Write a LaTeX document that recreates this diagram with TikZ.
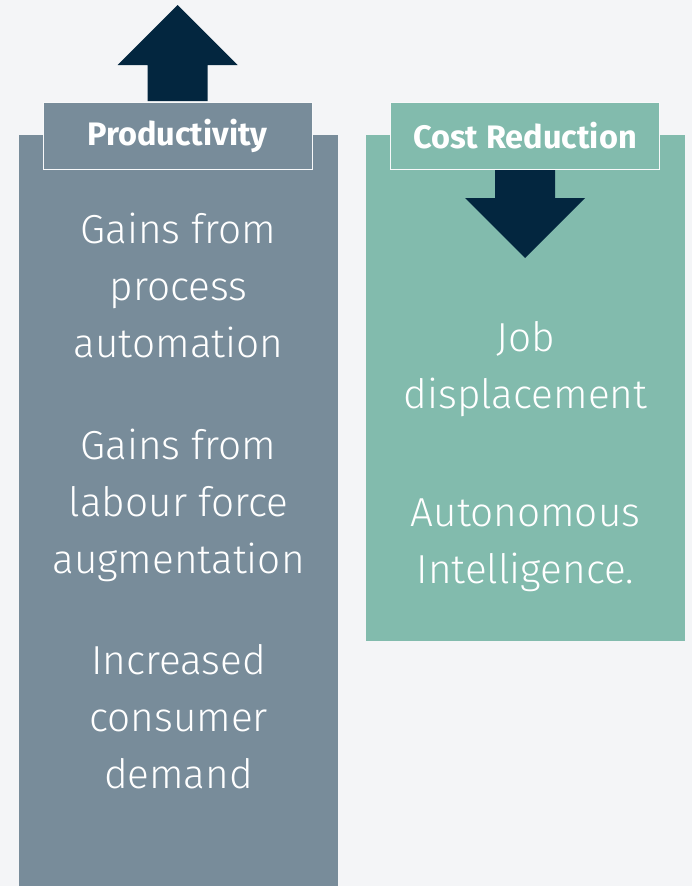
\documentclass[tikz,border=0pt]{standalone}
\usepackage{fontspec}
\setmainfont{Fira Sans}[UprightFont=* Light, BoldFont=* Bold]
\definecolor{slate}{HTML}{788C9A}
\definecolor{sage}{HTML}{82BBAD}
\definecolor{navy}{HTML}{03263F}
\definecolor{paper}{HTML}{F4F5F7}
\begin{document}
\begin{tikzpicture}[x=1pt, y=-1pt, line join=miter,
	tag/.style={draw=paper!60!white, line width=1pt, minimum width=269pt, minimum height=67pt, inner sep=0pt, text=white, font=\fontsize{32.5}{36}\selectfont\bfseries},
	body/.style={align=center, text=white, inner sep=0pt, anchor=base, font=\fontsize{40.5}{57}\selectfont}]
	\fill[paper] (0,0) rectangle (692,886);
	\useasboundingbox (0,0) rectangle (692,886);
	% columns
	\fill[slate] (19,135) rectangle (338,886);
	\fill[sage] (366,135) rectangle (685,641);
	\node[tag, fill=slate] (prod) at (177.5,136) {Productivity};
	\node[tag, fill=sage] (cost) at (525,136) {Cost Reduction};
	% arrows
	\fill[navy] (prod.north) ++(-30,-1) -- ++(0,-36) -- ++(-30,0) -- ++(60,-60) -- ++(60,60) -- ++(-30,0) -- ++(0,36) -- cycle;
	\fill[navy] (cost.south) ++(-30,0) -- ++(0,28) -- ++(-30,0) -- ++(60,60) -- ++(60,-60) -- ++(-30,0) -- ++(0,-28) -- cycle;
	% texts (anchor = baseline of last line)
	\node[body] (auto) at (178.5,357) {Gains from\\process\\automation};
	\node[body] (labour) at (178.5,573) {Gains from\\labour force\\augmentation};
	\node[body] (demand) at (178.5,788) {Increased\\consumer\\demand};
	\node[body] (job) at (525.5,408) {Job\\displacement};
	\node[body] (ai) at (525.5,583) {Autonomous\\Intelligence.};
\end{tikzpicture}
\end{document}
